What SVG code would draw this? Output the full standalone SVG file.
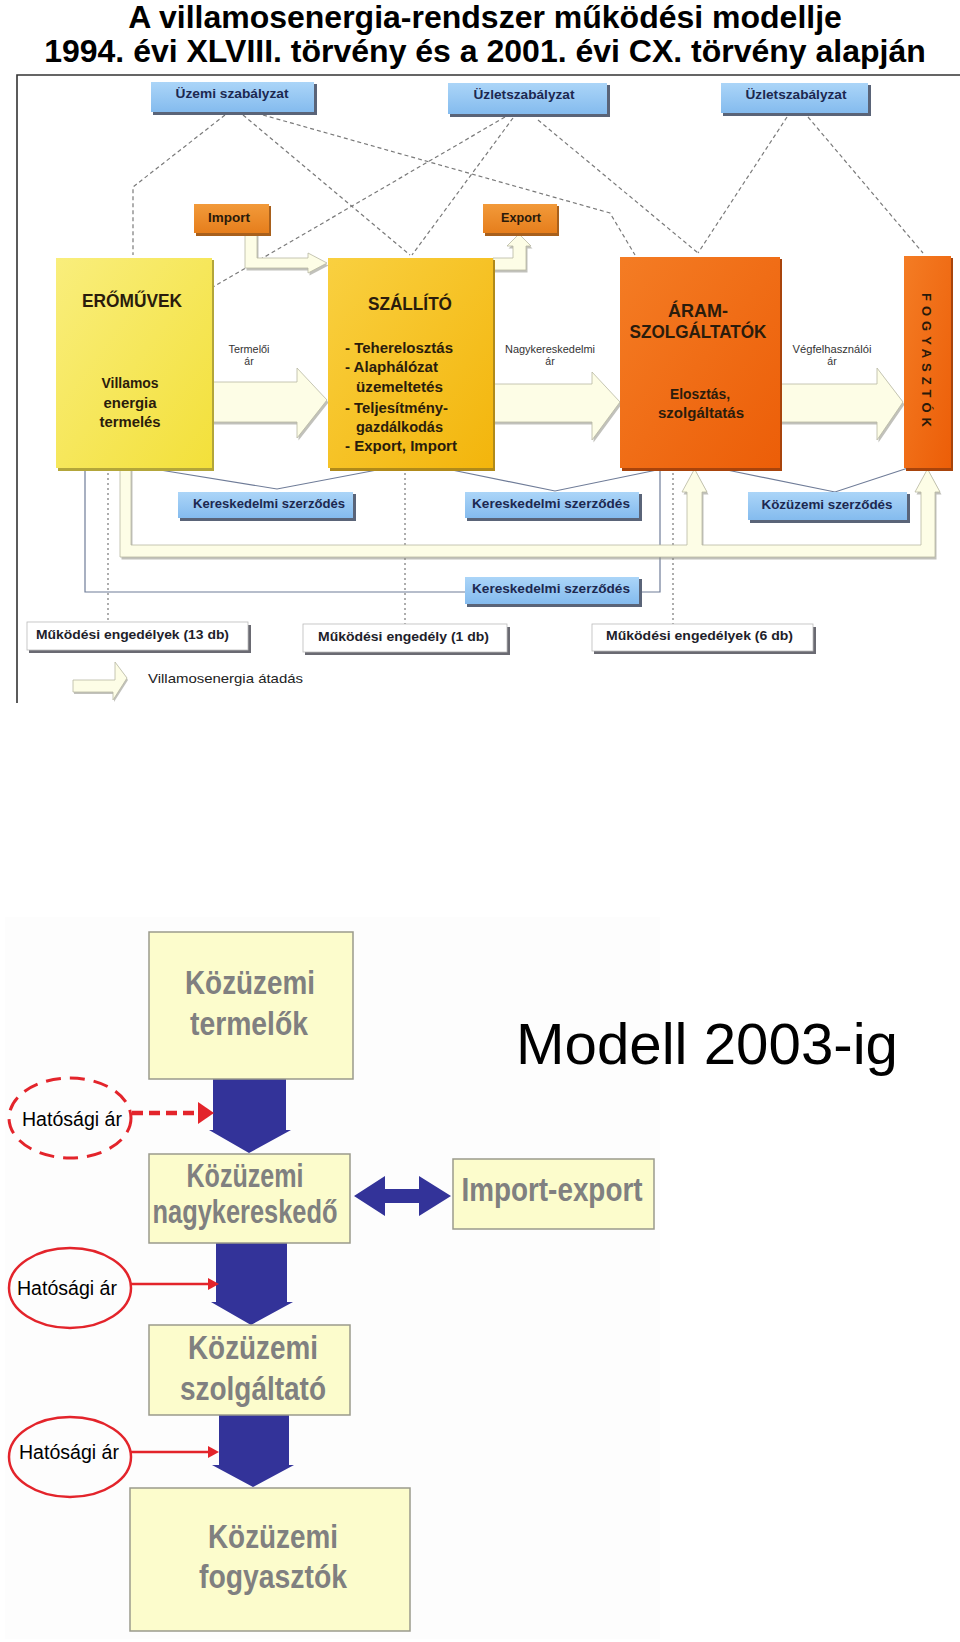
<svg xmlns="http://www.w3.org/2000/svg" width="960" height="1642" viewBox="0 0 960 1642">
<style>
.title{font-family:"Liberation Sans",Arial,sans-serif;font-weight:bold;font-size:32px;fill:#000;text-anchor:middle}
.bt{font-family:"Liberation Sans",Arial,sans-serif;font-weight:bold;font-size:13px;fill:#1c2850;text-anchor:middle}
.ot{font-family:"Liberation Sans",Arial,sans-serif;font-weight:bold;font-size:13px;fill:#2a1a0a;text-anchor:middle}
.big{font-family:"Liberation Sans",Arial,sans-serif;font-weight:bold;font-size:19px;fill:#2a1c0c;text-anchor:middle}
.mid{font-family:"Liberation Sans",Arial,sans-serif;font-weight:bold;font-size:14px;fill:#2a1c0c}
.small{font-family:"Liberation Sans",Arial,sans-serif;font-size:10.5px;fill:#333;text-anchor:middle}
.wt{font-family:"Liberation Sans",Arial,sans-serif;font-weight:bold;font-size:13.5px;fill:#1e1e2a}
.legend{font-family:"Liberation Sans",Arial,sans-serif;font-size:13px;fill:#222}
.dash{stroke:#7a7a7a;stroke-width:1.2;stroke-dasharray:4 3;fill:none}
.dot{stroke:#777;stroke-width:1.2;stroke-dasharray:2 3;fill:none}
.thin{stroke:#6f7c98;stroke-width:1.2;fill:none}
.shadow{fill:#5a6478}
.cream{fill:#fdfde6;stroke:#b8b8a2;stroke-width:0.8}
.cshadow{fill:#8e8e84;opacity:0.55}
.lbox{fill:#fcfccc;stroke:#9a9a8c;stroke-width:1.5}
.lt{font-family:"Liberation Sans",Arial,sans-serif;font-weight:bold;font-size:33px;fill:#808080;text-anchor:middle}
.hat{font-family:"Liberation Sans",Arial,sans-serif;font-size:20px;fill:#000;text-anchor:middle}
.navy{fill:#333399}
.red{stroke:#e3242b;fill:none}
</style>
<defs>
<linearGradient id="gBlue" x1="0" y1="0" x2="0" y2="1"><stop offset="0" stop-color="#abd5f8"/><stop offset="1" stop-color="#84bbee"/></linearGradient>
<linearGradient id="gOr" x1="0" y1="0" x2="0" y2="1"><stop offset="0" stop-color="#f29a3a"/><stop offset="1" stop-color="#e67e1c"/></linearGradient>
<linearGradient id="gYel" x1="0" y1="0" x2="1" y2="1"><stop offset="0" stop-color="#f9ee7c"/><stop offset="1" stop-color="#f3e03a"/></linearGradient>
<linearGradient id="gGold" x1="0" y1="0" x2="1" y2="1"><stop offset="0" stop-color="#f9d040"/><stop offset="1" stop-color="#f3b50c"/></linearGradient>
<linearGradient id="gRed" x1="0" y1="0" x2="1" y2="1"><stop offset="0" stop-color="#f47c24"/><stop offset="1" stop-color="#ec5e08"/></linearGradient>
</defs>
<rect width="960" height="1642" fill="#fff"/>

<g id="title">
<text class="title" x="485" y="28">A villamosenergia-rendszer működési modellje</text>
<text class="title" x="485" y="62">1994. évi XLVIII. törvény és a 2001. évi CX. törvény alapján</text>
</g>
<g id="frame" stroke="#333" stroke-width="1.6" fill="none">
<path d="M17,703 L17,75 L960,75"/>
</g>

<g id="connectors">
<path class="dash" d="M225,115 L133,187 L133,255"/>
<path class="dash" d="M243,115 L410,255"/>
<path class="dash" d="M263,115 L610,213 L635,255"/>
<path class="dash" d="M505,117 L213,287"/>
<path class="dash" d="M513,118 L412,255"/>
<path class="dash" d="M538,120 L698,253"/>
<path class="dash" d="M787,117 L698,253"/>
<path class="dash" d="M808,117 L923,253"/>
<path class="thin" d="M160,470 L277,489 L377,470"/>
<path class="thin" d="M447,469 L555,491 L657,470"/>
<path class="thin" d="M727,470 L835,492 L908,468"/>
<path class="thin" d="M85,468 L85,592 L465,592"/>
<path class="thin" d="M660,468 L660,592 L639,592"/>
<path class="dot" d="M108,468 L108,622"/>
<path class="dot" d="M405,468 L405,624"/>
<path class="dot" d="M673,468 L673,624"/>
<g transform="translate(1.5,2.5)">
<path class="cshadow" d="M212,382 L297,382 L297,368 L327,400 L297,438 L297,422 L212,422 Z"/>
<path class="cshadow" d="M493,384 L592,384 L592,372 L620,402 L592,440 L592,422 L493,422 Z"/>
<path class="cshadow" d="M780,384 L877,384 L877,368 L903,402 L877,440 L877,422 L780,422 Z"/>
<path class="cshadow" d="M120,468 L120,557 L935,557 L935,492 L940,492 L927.5,469 L915,492 L921,492 L921,545 L702,545 L702,492 L707,492 L694.5,469 L682,492 L687,492 L687,545 L131,545 L131,468 Z"/>
<path class="cshadow" d="M245,233 L257,233 L257,258 L308,258 L308,253 L327,263 L308,273 L308,268 L245,268 Z"/>
<path class="cshadow" d="M493,258 L513,258 L513,246 L507,246 L519,234 L531,246 L526,246 L526,270 L493,270 Z"/>
</g>
<path id="e1" class="cream" d="M212,382 L297,382 L297,368 L327,400 L297,438 L297,422 L212,422 Z"/>
<path id="e2" class="cream" d="M493,384 L592,384 L592,372 L620,402 L592,440 L592,422 L493,422 Z"/>
<path id="e3" class="cream" d="M780,384 L877,384 L877,368 L903,402 L877,440 L877,422 L780,422 Z"/>
<path id="e4" class="cream" d="M120,468 L120,557 L935,557 L935,492 L940,492 L927.5,469 L915,492 L921,492 L921,545 L702,545 L702,492 L707,492 L694.5,469 L682,492 L687,492 L687,545 L131,545 L131,468 Z"/>
<path id="e5" class="cream" d="M245,233 L257,233 L257,258 L308,258 L308,253 L327,263 L308,273 L308,268 L245,268 Z"/>
<path id="e6" class="cream" d="M493,258 L513,258 L513,246 L507,246 L519,234 L531,246 L526,246 L526,270 L493,270 Z"/>
</g>

<g id="n-uzemi">
<rect class="shadow" x="153" y="84" width="164" height="31"/>
<rect x="151" y="82" width="163" height="30" fill="url(#gBlue)"/>
<text class="bt" x="232" y="98" textLength="113" lengthAdjust="spacingAndGlyphs">Üzemi szabályzat</text>
</g>
<g id="n-uzlet1">
<rect class="shadow" x="450" y="85" width="160" height="32"/>
<rect x="448" y="83" width="159" height="31" fill="url(#gBlue)"/>
<text class="bt" x="524" y="99" textLength="101" lengthAdjust="spacingAndGlyphs">Üzletszabályzat</text>
</g>
<g id="n-uzlet2">
<rect class="shadow" x="723" y="85" width="148" height="31"/>
<rect x="721" y="83" width="147" height="30" fill="url(#gBlue)"/>
<text class="bt" x="796" y="99" textLength="101" lengthAdjust="spacingAndGlyphs">Üzletszabályzat</text>
</g>
<g id="n-import">
<rect x="196" y="206" width="75" height="30" fill="#a8601c"/>
<rect x="194" y="204" width="75" height="29" fill="url(#gOr)"/>
<text class="ot" x="229" y="222" textLength="42" lengthAdjust="spacingAndGlyphs">Import</text>
</g>
<g id="n-export">
<rect x="485" y="206" width="74" height="30" fill="#a8601c"/>
<rect x="483" y="204" width="74" height="29" fill="url(#gOr)"/>
<text class="ot" x="521" y="222" textLength="40" lengthAdjust="spacingAndGlyphs">Export</text>
</g>
<g id="n-eromuvek">
<rect x="58" y="260" width="156" height="211" fill="#b3a63a"/>
<rect x="56" y="258" width="156" height="210" fill="url(#gYel)"/>
<text class="big" x="132" y="307" textLength="100" lengthAdjust="spacingAndGlyphs">ERŐMŰVEK</text>
<text class="mid" x="130" y="388" text-anchor="middle" textLength="57" lengthAdjust="spacingAndGlyphs">Villamos</text>
<text class="mid" x="130" y="408" text-anchor="middle" textLength="53" lengthAdjust="spacingAndGlyphs">energia</text>
<text class="mid" x="130" y="427" text-anchor="middle" textLength="61" lengthAdjust="spacingAndGlyphs">termelés</text>
</g>
<g id="n-szallito">
<rect x="330" y="260" width="165" height="211" fill="#b08a1a"/>
<rect x="328" y="258" width="165" height="210" fill="url(#gGold)"/>
<text class="big" x="410" y="310" textLength="84" lengthAdjust="spacingAndGlyphs">SZÁLLÍTÓ</text>
<text class="mid" x="345" y="353" textLength="108" lengthAdjust="spacingAndGlyphs">- Teherelosztás</text>
<text class="mid" x="345" y="372" textLength="93" lengthAdjust="spacingAndGlyphs">- Alaphálózat</text>
<text class="mid" x="356" y="392" textLength="87" lengthAdjust="spacingAndGlyphs">üzemeltetés</text>
<text class="mid" x="345" y="413" textLength="103" lengthAdjust="spacingAndGlyphs">- Teljesítmény-</text>
<text class="mid" x="356" y="432" textLength="87" lengthAdjust="spacingAndGlyphs">gazdálkodás</text>
<text class="mid" x="345" y="451" textLength="112" lengthAdjust="spacingAndGlyphs">- Export, Import</text>
</g>
<g id="n-aram">
<rect x="622" y="259" width="160" height="212" fill="#a8440c"/>
<rect x="620" y="257" width="160" height="211" fill="url(#gRed)"/>
<text class="big" x="698" y="317" textLength="60" lengthAdjust="spacingAndGlyphs">ÁRAM-</text>
<text class="big" x="698" y="338" textLength="137" lengthAdjust="spacingAndGlyphs">SZOLGÁLTATÓK</text>
<text class="mid" x="700" y="399" text-anchor="middle" textLength="60" lengthAdjust="spacingAndGlyphs">Elosztás,</text>
<text class="mid" x="701" y="418" text-anchor="middle" textLength="86" lengthAdjust="spacingAndGlyphs">szolgáltatás</text>
</g>
<g id="n-fogyasztok">
<rect x="906" y="258" width="47" height="213" fill="#a8440c"/>
<rect x="904" y="256" width="47" height="212" fill="url(#gRed)"/>
<text class="ot" font-size="12.5" transform="translate(921.5,360) rotate(90)" x="0" y="0" textLength="134" lengthAdjust="spacing">FOGYASZTÓK</text>
</g>
<g id="l-prices">
<text class="small" x="249" y="353" textLength="41" lengthAdjust="spacingAndGlyphs">Termelői</text>
<text class="small" x="249" y="365">ár</text>
<text class="small" x="550" y="353" textLength="90" lengthAdjust="spacingAndGlyphs">Nagykereskedelmi</text>
<text class="small" x="550" y="365">ár</text>
<text class="small" x="832" y="353" textLength="79" lengthAdjust="spacingAndGlyphs">Végfelhasználói</text>
<text class="small" x="832" y="365">ár</text>
</g>
<g id="n-ker1">
<rect class="shadow" x="180" y="494" width="176" height="27"/>
<rect x="178" y="492" width="175" height="26" fill="url(#gBlue)"/>
<text class="bt" x="269" y="508" textLength="152" lengthAdjust="spacingAndGlyphs">Kereskedelmi szerződés</text>
</g>
<g id="n-ker2">
<rect class="shadow" x="467" y="494" width="175" height="27"/>
<rect x="465" y="492" width="174" height="26" fill="url(#gBlue)"/>
<text class="bt" x="551" y="508" textLength="158" lengthAdjust="spacingAndGlyphs">Kereskedelmi szerződés</text>
</g>
<g id="n-kozuzemi-szerzodes">
<rect class="shadow" x="750" y="494" width="160" height="29"/>
<rect x="748" y="492" width="159" height="28" fill="url(#gBlue)"/>
<text class="bt" x="827" y="509" textLength="131" lengthAdjust="spacingAndGlyphs">Közüzemi szerződés</text>
</g>
<g id="n-ker3">
<rect class="shadow" x="467" y="579" width="175" height="28"/>
<rect x="465" y="577" width="174" height="27" fill="url(#gBlue)"/>
<text class="bt" x="551" y="593" textLength="158" lengthAdjust="spacingAndGlyphs">Kereskedelmi szerződés</text>
</g>
<g id="n-mukodesi13">
<rect x="29" y="625" width="222" height="28" fill="#6a6a72"/>
<rect x="27" y="622" width="221" height="28" fill="#fff" stroke="#bbb" stroke-width="0.8"/>
<text class="wt" x="36" y="639" textLength="193" lengthAdjust="spacingAndGlyphs">Működési engedélyek (13 db)</text>
</g>
<g id="n-mukodesi1">
<rect x="305" y="627" width="205" height="28" fill="#6a6a72"/>
<rect x="303" y="624" width="204" height="28" fill="#fff" stroke="#bbb" stroke-width="0.8"/>
<text class="wt" x="318" y="641" textLength="171" lengthAdjust="spacingAndGlyphs">Működési engedély (1 db)</text>
</g>
<g id="n-mukodesi6">
<rect x="594" y="627" width="222" height="27" fill="#6a6a72"/>
<rect x="592" y="624" width="221" height="27" fill="#fff" stroke="#bbb" stroke-width="0.8"/>
<text class="wt" x="606" y="640" textLength="187" lengthAdjust="spacingAndGlyphs">Működési engedélyek (6 db)</text>
</g>
<g id="legend">
<path class="cshadow" transform="translate(1,2)" d="M73,680 L115,680 L115,662 L127,678 L113,700 L113,692 L73,692 Z"/>
<path class="cream" d="M73,680 L115,680 L115,662 L127,678 L113,700 L113,692 L73,692 Z"/>
<text class="legend" x="148" y="683" textLength="155" lengthAdjust="spacingAndGlyphs">Villamosenergia átadás</text>
</g>

<rect x="5" y="917" width="655" height="722" fill="#fdfdfd"/>
<g id="lower-connectors">
<path class="navy" d="M213,1079 L286,1079 L286,1130 L291,1130 L249,1153 L209,1130 L213,1130 Z"/>
<path class="navy" d="M216,1243 L287,1243 L287,1302 L293,1302 L251,1325 L211,1302 L216,1302 Z"/>
<path class="navy" d="M219,1415 L289,1415 L289,1465 L294,1465 L253,1487 L212,1465 L219,1465 Z"/>
<path class="navy" d="M354,1196 L385,1176 L385,1189 L419,1189 L419,1176 L451,1196 L419,1216 L419,1203 L385,1203 L385,1216 Z"/>
<path class="red" stroke-width="4.5" stroke-dasharray="11 6" d="M132,1113 L199,1113"/>
<path fill="#e3242b" d="M198,1102 L214,1113 L198,1124 Z"/>
<path class="red" stroke-width="2.5" d="M131,1284 L211,1284"/>
<path fill="#e3242b" d="M208,1278 L219,1284 L208,1290 Z"/>
<path class="red" stroke-width="2.5" d="M131,1452 L211,1452"/>
<path fill="#e3242b" d="M208,1446 L219,1452 L208,1458 Z"/>
</g>
<g id="n-termelok">
<rect class="lbox" x="149" y="932" width="204" height="147"/>
<text class="lt" x="250" y="994" textLength="130" lengthAdjust="spacingAndGlyphs">Közüzemi</text>
<text class="lt" x="249" y="1035" textLength="118" lengthAdjust="spacingAndGlyphs">termelők</text>
</g>
<g id="n-nagykereskedo">
<rect class="lbox" x="149" y="1154" width="201" height="89"/>
<text class="lt" font-size="30" x="245" y="1187" textLength="117" lengthAdjust="spacingAndGlyphs">Közüzemi</text>
<text class="lt" font-size="30" x="245" y="1223" textLength="185" lengthAdjust="spacingAndGlyphs">nagykereskedő</text>
</g>
<g id="n-importexport">
<rect class="lbox" x="453" y="1159" width="201" height="70"/>
<text class="lt" font-size="32" x="552" y="1201" textLength="181" lengthAdjust="spacingAndGlyphs">Import-export</text>
</g>
<g id="n-szolgaltato">
<rect class="lbox" x="149" y="1325" width="201" height="90"/>
<text class="lt" x="253" y="1359" textLength="130" lengthAdjust="spacingAndGlyphs">Közüzemi</text>
<text class="lt" x="253" y="1400" textLength="146" lengthAdjust="spacingAndGlyphs">szolgáltató</text>
</g>
<g id="n-fogyasztok2">
<rect class="lbox" x="130" y="1488" width="280" height="143"/>
<text class="lt" x="273" y="1548" textLength="130" lengthAdjust="spacingAndGlyphs">Közüzemi</text>
<text class="lt" x="273" y="1588" textLength="148" lengthAdjust="spacingAndGlyphs">fogyasztók</text>
</g>
<g id="n-hat1">
<ellipse class="red" stroke-width="3" stroke-dasharray="15 9" cx="70" cy="1118" rx="61" ry="40" fill="#fff"/>
<text class="hat" x="72" y="1126" textLength="100" lengthAdjust="spacingAndGlyphs">Hatósági ár</text>
</g>
<g id="n-hat2">
<ellipse class="red" stroke-width="2.5" cx="70" cy="1288" rx="61" ry="40" fill="#fff"/>
<text class="hat" x="67" y="1295" textLength="100" lengthAdjust="spacingAndGlyphs">Hatósági ár</text>
</g>
<g id="n-hat3">
<ellipse class="red" stroke-width="2.5" cx="70" cy="1457" rx="61" ry="40" fill="#fff"/>
<text class="hat" x="69" y="1459" textLength="100" lengthAdjust="spacingAndGlyphs">Hatósági ár</text>
</g>
<g id="modell-title">
<text x="516" y="1064" font-family="Liberation Sans, Arial, sans-serif" font-size="58" fill="#000" textLength="382" lengthAdjust="spacingAndGlyphs">Modell 2003-ig</text>
</g>
</svg>
